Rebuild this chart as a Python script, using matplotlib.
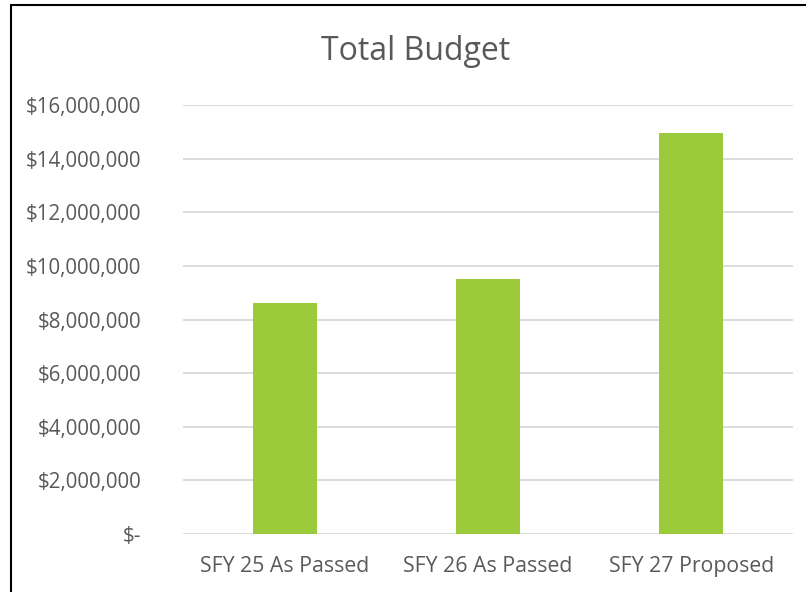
import matplotlib.pyplot as plt
from matplotlib.patches import Rectangle
from matplotlib.ticker import FuncFormatter

categories = ["SFY 25 As Passed", "SFY 26 As Passed", "SFY 27 Proposed"]
budget = [8600000, 9510000, 14950000]
y_ticks = [0, 2000000, 4000000, 6000000, 8000000, 10000000, 12000000, 14000000, 16000000]

TEXT = "#595959"
GRID = "#D9D9D9"
BAR = "#9BCB3B"

plt.rcParams['font.family'] = ['Open Sans', 'DejaVu Sans']

fig = plt.figure(figsize=(8.06, 5.92), dpi=100)
ax = fig.add_axes([0.227, 0.098, 0.757, 0.7246])

x = range(len(categories))
ax.bar(x, budget, width=0.315, color=BAR, zorder=3)

ax.set_xlim(-0.5, 2.5)
ax.set_ylim(0, 16000000)
ax.set_yticks(y_ticks)
ax.set_xticks(list(x))
ax.set_xticklabels(categories)


def money(v, pos):
    # accounting style: zero shows as a dash
    if v == 0:
        return "$-"
    return "${:,.0f}".format(v)


ax.yaxis.set_major_formatter(FuncFormatter(money))
ax.grid(axis='y', color=GRID, linewidth=1.3, zorder=0)
for s in ax.spines.values():
    s.set_visible(False)
ax.tick_params(axis='y', length=0, labelsize=14.8, labelcolor=TEXT, pad=30)
ax.tick_params(axis='x', length=0, labelsize=15.3, labelcolor=TEXT, pad=16)

fig.text(0.515, 0.913, "Total Budget", ha='center', va='center', fontsize=23, color=TEXT)

# black frame around the chart, right/bottom run off the image
fig.patches.append(Rectangle((11 / 806, -0.1), 1.2, 1.1 - 5 / 592, transform=fig.transFigure,
                             fill=False, edgecolor='black', linewidth=1.5))

fig.savefig("out.png", dpi=100)
plt.close(fig)
